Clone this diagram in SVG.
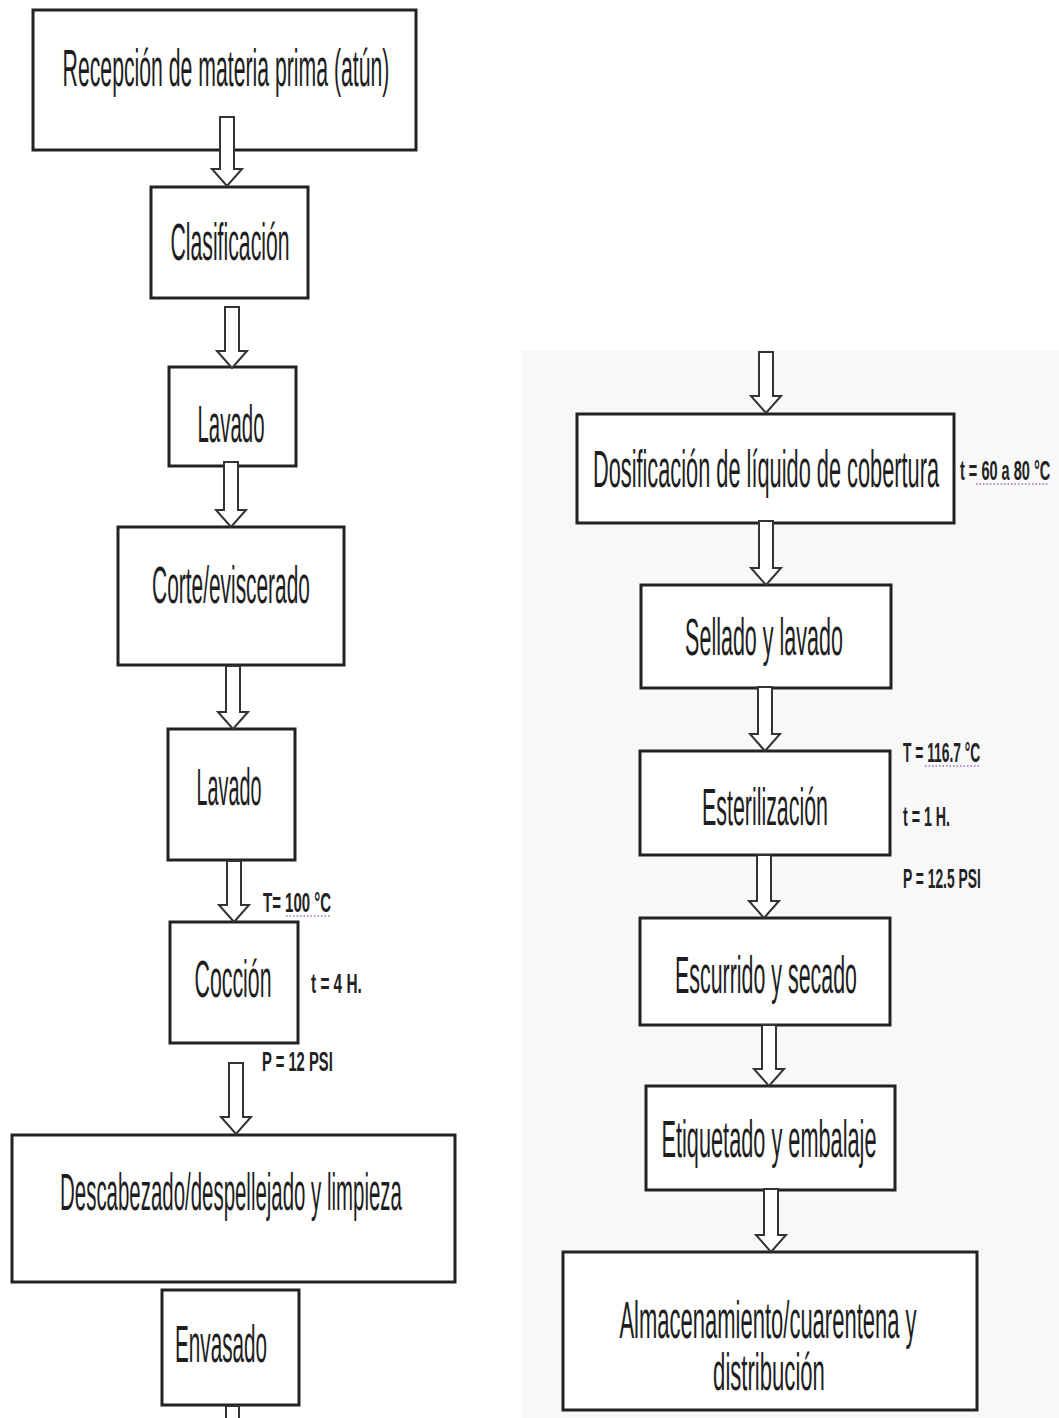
<svg xmlns="http://www.w3.org/2000/svg" width="1059" height="1418" viewBox="0 0 1059 1418">
  <style>
    .box { fill: #ffffff; stroke: #222222; stroke-width: 3; }
    .lbl { font-family: "Liberation Sans", Arial, sans-serif; font-size: 51px; fill: #1e1e1e; text-anchor: middle; }
    .note { font-family: "Liberation Sans", Arial, sans-serif; font-size: 28px; font-weight: bold; fill: #222222; }
    .arr { fill: #ffffff; stroke: #333333; stroke-width: 2; stroke-linejoin: miter; }
    .dots { stroke: #9b6fc4; stroke-width: 1.5; stroke-dasharray: 1.5 2; fill: none; }
  </style>
  <rect x="0" y="0" width="1059" height="1418" fill="#ffffff"/>
  <rect x="522" y="350" width="537" height="1068" fill="#f8f8f8"/>

  <!-- Left column nodes -->
  <g id="recepcion">
    <rect class="box" x="33" y="10" width="383" height="140"/>
    <text class="lbl" transform="translate(226 86) scale(0.43 1)" textLength="760" lengthAdjust="spacingAndGlyphs">Recepción de materia prima (atún)</text>
  </g>
  <g id="clasificacion">
    <rect class="box" x="151" y="187" width="157" height="111"/>
    <text class="lbl" transform="translate(230 260) scale(0.43 1)" textLength="277" lengthAdjust="spacingAndGlyphs">Clasificación</text>
  </g>
  <g id="lavado1">
    <rect class="box" x="169" y="367" width="127" height="99"/>
    <text class="lbl" transform="translate(231 442) scale(0.43 1)" textLength="156" lengthAdjust="spacingAndGlyphs">Lavado</text>
  </g>
  <g id="corte">
    <rect class="box" x="118" y="527" width="226" height="138"/>
    <text class="lbl" transform="translate(231 603) scale(0.43 1)" textLength="367" lengthAdjust="spacingAndGlyphs">Corte/eviscerado</text>
  </g>
  <g id="lavado2">
    <rect class="box" x="168" y="729" width="127" height="131"/>
    <text class="lbl" transform="translate(229 805) scale(0.43 1)" textLength="151" lengthAdjust="spacingAndGlyphs">Lavado</text>
  </g>
  <g id="coccion">
    <rect class="box" x="170" y="922" width="128" height="121"/>
    <text class="lbl" transform="translate(233 997) scale(0.43 1)" textLength="179" lengthAdjust="spacingAndGlyphs">Cocción</text>
    <text class="note" transform="translate(263 912) scale(0.54 1)" textLength="126" lengthAdjust="spacingAndGlyphs">T= 100 °C</text>
    <line class="dots" x1="286" y1="916" x2="331" y2="916"/>
    <text class="note" transform="translate(311 993) scale(0.54 1)" textLength="94" lengthAdjust="spacingAndGlyphs">t = 4 H.</text>
    <text class="note" transform="translate(262 1071) scale(0.54 1)" textLength="131" lengthAdjust="spacingAndGlyphs">P = 12 PSI</text>
  </g>
  <g id="descabezado">
    <rect class="box" x="12" y="1135" width="443" height="147"/>
    <text class="lbl" transform="translate(231 1210) scale(0.43 1)" textLength="795" lengthAdjust="spacingAndGlyphs">Descabezado/despellejado y limpieza</text>
  </g>
  <g id="envasado">
    <rect class="box" x="162" y="1290" width="137" height="115"/>
    <text class="lbl" transform="translate(221 1362) scale(0.43 1)" textLength="214" lengthAdjust="spacingAndGlyphs">Envasado</text>
  </g>

  <!-- Right column nodes -->
  <g id="dosificacion">
    <rect class="box" x="577" y="414" width="377" height="109"/>
    <text class="lbl" transform="translate(766 487) scale(0.43 1)" textLength="805" lengthAdjust="spacingAndGlyphs">Dosificación de líquido de cobertura</text>
    <text class="note" font-size="24" transform="translate(960 480) scale(0.54 1)" textLength="167" lengthAdjust="spacingAndGlyphs">t = 60 a 80 °C</text>
    <line class="dots" x1="976" y1="484" x2="1049" y2="484"/>
  </g>
  <g id="sellado">
    <rect class="box" x="641" y="585" width="250" height="103"/>
    <text class="lbl" transform="translate(764 655) scale(0.43 1)" textLength="367" lengthAdjust="spacingAndGlyphs">Sellado y lavado</text>
  </g>
  <g id="esterilizacion">
    <rect class="box" x="640" y="751" width="250" height="104"/>
    <text class="lbl" transform="translate(765 825) scale(0.43 1)" textLength="293" lengthAdjust="spacingAndGlyphs">Esterilización</text>
    <text class="note" transform="translate(903 762) scale(0.54 1)" textLength="143" lengthAdjust="spacingAndGlyphs">T = 116.7 °C</text>
    <line class="dots" x1="925" y1="766" x2="981" y2="766"/>
    <text class="note" transform="translate(903 826) scale(0.54 1)" textLength="87" lengthAdjust="spacingAndGlyphs">t = 1 H.</text>
    <text class="note" transform="translate(903 888) scale(0.54 1)" textLength="144" lengthAdjust="spacingAndGlyphs">P = 12.5 PSI</text>
  </g>
  <g id="escurrido">
    <rect class="box" x="640" y="918" width="250" height="107"/>
    <text class="lbl" transform="translate(766 993) scale(0.43 1)" textLength="423" lengthAdjust="spacingAndGlyphs">Escurrido y secado</text>
  </g>
  <g id="etiquetado">
    <rect class="box" x="646" y="1086" width="249" height="104"/>
    <text class="lbl" transform="translate(769 1157) scale(0.43 1)" textLength="500" lengthAdjust="spacingAndGlyphs">Etiquetado y embalaje</text>
  </g>
  <g id="almacenamiento">
    <rect class="box" x="563" y="1252" width="414" height="158"/>
    <text class="lbl" font-size="45" transform="translate(768 1338) scale(0.43 1)" textLength="691" lengthAdjust="spacingAndGlyphs">Almacenamiento/cuarentena y</text>
    <text class="lbl" font-size="45" transform="translate(769 1390) scale(0.43 1)" textLength="260" lengthAdjust="spacingAndGlyphs">distribución</text>
  </g>

  <!-- Connectors: block arrows -->
  <g id="connectors">
    <path class="arr" d="M220 117 H234 V169 H242 L227 186 L212 169 H220 Z"/>
    <path class="arr" d="M225 307 H239 V351 H247 L232 368 L217 351 H225 Z"/>
    <path class="arr" d="M224 462 H238 V510 H246 L231 527 L216 510 H224 Z"/>
    <path class="arr" d="M226 666 H240 V712 H248 L233 729 L218 712 H226 Z"/>
    <path class="arr" d="M227 861 H241 V905 H249 L234 922 L219 905 H227 Z"/>
    <path class="arr" d="M229 1063 H243 V1117 H251 L236 1134 L221 1117 H229 Z"/>
    <path class="arr" d="M226 1418 V1406 H239 V1418"/>
    <path class="arr" d="M759 352 H773 V396 H781 L766 413 L751 396 H759 Z"/>
    <path class="arr" d="M759 521 H773 V568 H781 L766 585 L751 568 H759 Z"/>
    <path class="arr" d="M758 687 H772 V734 H780 L765 751 L750 734 H758 Z"/>
    <path class="arr" d="M757 855 H771 V901 H779 L764 918 L749 901 H757 Z"/>
    <path class="arr" d="M762 1025 H776 V1069 H784 L769 1086 L754 1069 H762 Z"/>
    <path class="arr" d="M764 1189 H778 V1235 H786 L771 1252 L756 1235 H764 Z"/>
  </g>
</svg>
